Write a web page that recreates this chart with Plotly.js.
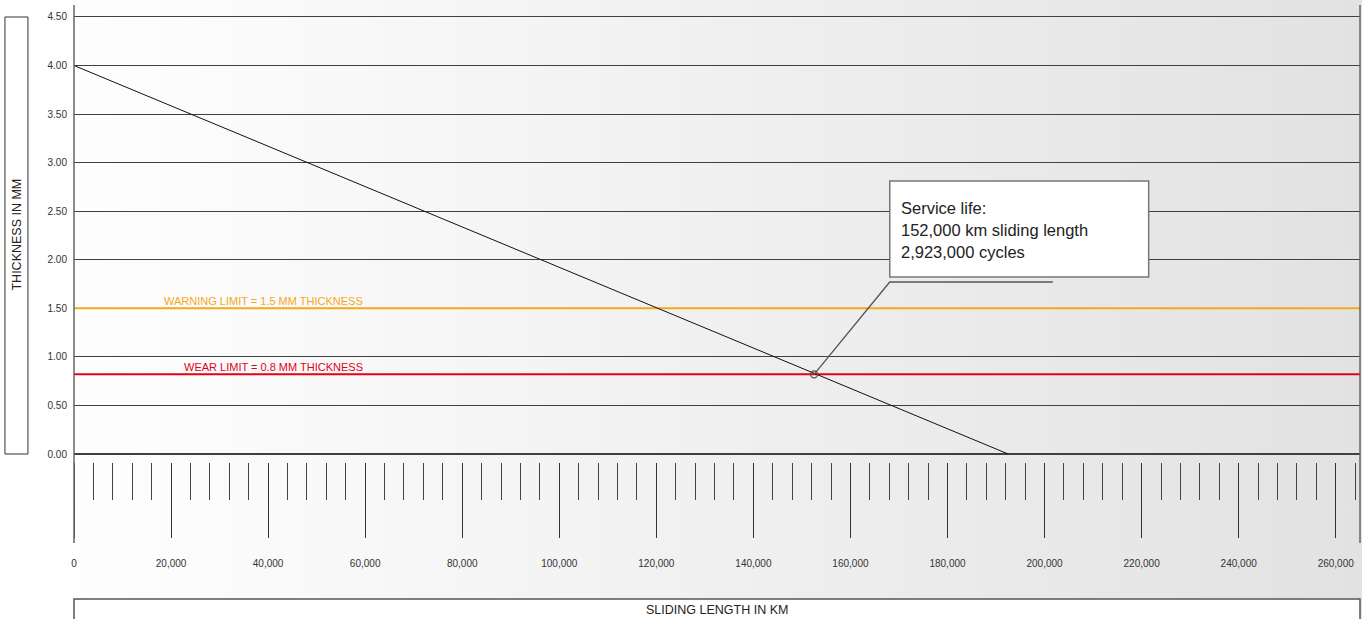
<!DOCTYPE html>
<html>
<head>
<meta charset="utf-8">
<script src="https://cdn.plot.ly/plotly-3.0.1.min.js"></script>
<style>
  html, body { margin: 0; padding: 0; }
  body { background: linear-gradient(to right, #ffffff 0px, #fefefe 80px, #e2e2e2 1362px); }
  #chart { width: 1362px; height: 619px; }
</style>
</head>
<body>
<div id="chart"></div>
<script>
// ---- data ----
const slidingKm = [0, 192500];          // wear line x (km)
const thicknessMm = [4.0, 0.0];         // wear line y (mm)
const serviceLifeKm = [152500];         // marked point
const serviceLifeMm = [0.82];
const warningLimitMm = 1.5;
const wearLimitMm = 0.82;
const yTickVals = [0, 0.5, 1, 1.5, 2, 2.5, 3, 3.5, 4, 4.5];
const yTickText = ['0.00', '0.50', '1.00', '1.50', '2.00', '2.50', '3.00', '3.50', '4.00', '4.50'];
const xRange = [0, 265000];
const yRange = [0, 4.52];
const warningLabel = 'WARNING LIMIT = 1.5 MM THICKNESS';
const wearLabel = 'WEAR LIMIT = 0.8 MM THICKNESS';
const calloutLines = ['Service life:', '152,000 km sliding length', '2,923,000 cycles'];
const xTitle = 'SLIDING LENGTH IN KM';
const yTitle = 'THICKNESS IN MM';

const FONT = '"Liberation Sans", Arial, Helvetica, sans-serif';
const ORANGE = '#f5a81c';
const RED = '#e3001b';

const traces = [
  { x: xRange, y: [warningLimitMm, warningLimitMm], type: 'scatter', mode: 'lines',
    line: { color: ORANGE, width: 2 }, hoverinfo: 'skip', showlegend: false, cliponaxis: false },
  { x: xRange, y: [wearLimitMm, wearLimitMm], type: 'scatter', mode: 'lines',
    line: { color: RED, width: 2 }, hoverinfo: 'skip', showlegend: false, cliponaxis: false },
  { x: slidingKm, y: thicknessMm, type: 'scatter', mode: 'lines',
    line: { color: '#111', width: 1 }, hoverinfo: 'skip', showlegend: false },
  { x: serviceLifeKm, y: serviceLifeMm, type: 'scatter', mode: 'markers',
    marker: { symbol: 'circle-open', size: 7, color: '#555', line: { width: 1.3, color: '#555' } },
    hoverinfo: 'skip', showlegend: false }
];

// callout geometry (data coords)
const boxX0 = 168100, boxX1 = 221450, boxY0 = 1.822, boxY1 = 2.811;
const leaderX = 168100, leaderY = 1.771, leaderEndX = 201700;
const textX = 169950, textYs = [2.533, 2.306, 2.080];

const shapes = [
  // left & right vertical frame lines
  { type: 'line', xref: 'paper', yref: 'paper', x0: 0, x1: 0, y0: -0.1812, y1: 1.0224,
    line: { color: '#666', width: 1.5 } },
  { type: 'line', xref: 'paper', yref: 'paper', x0: 1, x1: 1, y0: -0.1812, y1: 1.0224,
    line: { color: '#666', width: 1.5 } },
  // y title box
  { type: 'rect', xref: 'paper', yref: 'paper', x0: -0.0537, x1: -0.0358, y0: 0.0179, y1: 0.9955,
    fillcolor: '#ffffff', line: { color: '#333', width: 1 } },
  // x title box
  { type: 'rect', xref: 'paper', yref: 'paper', x0: 0, x1: 1, y0: -0.6, y1: -0.3065,
    fillcolor: '#ffffff', line: { color: '#555', width: 1.5 } },
  // callout leader
  { type: 'path', xref: 'x', yref: 'y',
    path: `M ${serviceLifeKm[0]} ${serviceLifeMm[0]} L ${leaderX} ${leaderY} L ${leaderEndX} ${leaderY}`,
    line: { color: '#555', width: 1.3 } },
  // callout box
  { type: 'rect', xref: 'x', yref: 'y', x0: boxX0, x1: boxX1, y0: boxY0, y1: boxY1,
    fillcolor: '#ffffff', line: { color: '#777', width: 1.5 } }
];

const annotations = [
  { xref: 'x', yref: 'y', x: 60000, y: warningLimitMm, xanchor: 'right', yanchor: 'bottom',
    text: warningLabel, showarrow: false, font: { family: FONT, size: 11, color: ORANGE }, yshift: -1 },
  { xref: 'x', yref: 'y', x: 60000, y: wearLimitMm, xanchor: 'right', yanchor: 'bottom',
    text: wearLabel, showarrow: false, font: { family: FONT, size: 11, color: RED }, yshift: -1 },
  { xref: 'paper', yref: 'paper', x: -0.0447, y: 0.5078, xanchor: 'center', yanchor: 'middle',
    text: yTitle, textangle: -90,
    showarrow: false, font: { family: FONT, size: 12.5, color: '#222' } },
  { xref: 'paper', yref: 'paper', x: 0.5, y: -0.3311, xanchor: 'center', yanchor: 'middle',
    text: xTitle, showarrow: false, font: { family: FONT, size: 12.5, color: '#222' } }
];
calloutLines.forEach((t, i) => annotations.push({
  xref: 'x', yref: 'y', x: textX, y: textYs[i], xanchor: 'left', yanchor: 'middle',
  text: t, showarrow: false, font: { family: FONT, size: 16.5, color: '#222' }
}));

const layout = {
  width: 1362, height: 619,
  margin: { l: 74, r: 2, t: 15, b: 157, pad: 0 },
  paper_bgcolor: 'rgba(0,0,0,0)', plot_bgcolor: 'rgba(0,0,0,0)',
  showlegend: false,
  font: { family: FONT, color: '#333' },
  xaxis: {
    range: xRange, anchor: 'free', position: 0,
    showgrid: false, zeroline: false, showline: false,
    tickmode: 'linear', tick0: 0, dtick: 20000, tickformat: ',d',
    ticks: 'outside', ticklen: 75, tickwidth: 1, tickcolor: '#333',
    minor: { tickmode: 'linear', tick0: 0, dtick: 4000, ticks: 'outside', ticklen: 37, tickwidth: 1, tickcolor: '#444', showgrid: false },
    tickfont: { family: FONT, size: 10, color: '#333' },
    ticklabelstandoff: 17,
    fixedrange: true
  },
  yaxis: {
    range: yRange, domain: [0.0179, 1], anchor: 'x',
    tickmode: 'array', tickvals: yTickVals, ticktext: yTickText,
    showgrid: true, gridcolor: '#404040', gridwidth: 1,
    zeroline: true, zerolinecolor: '#404040', zerolinewidth: 1.2,
    showline: false, ticks: '',
    tickfont: { family: FONT, size: 10, color: '#333' },
    ticklabelstandoff: 6,
    fixedrange: true
  },
  shapes: shapes,
  annotations: annotations
};

Plotly.newPlot('chart', traces, layout, { staticPlot: true, displayModeBar: false });
</script>
</body>
</html>
